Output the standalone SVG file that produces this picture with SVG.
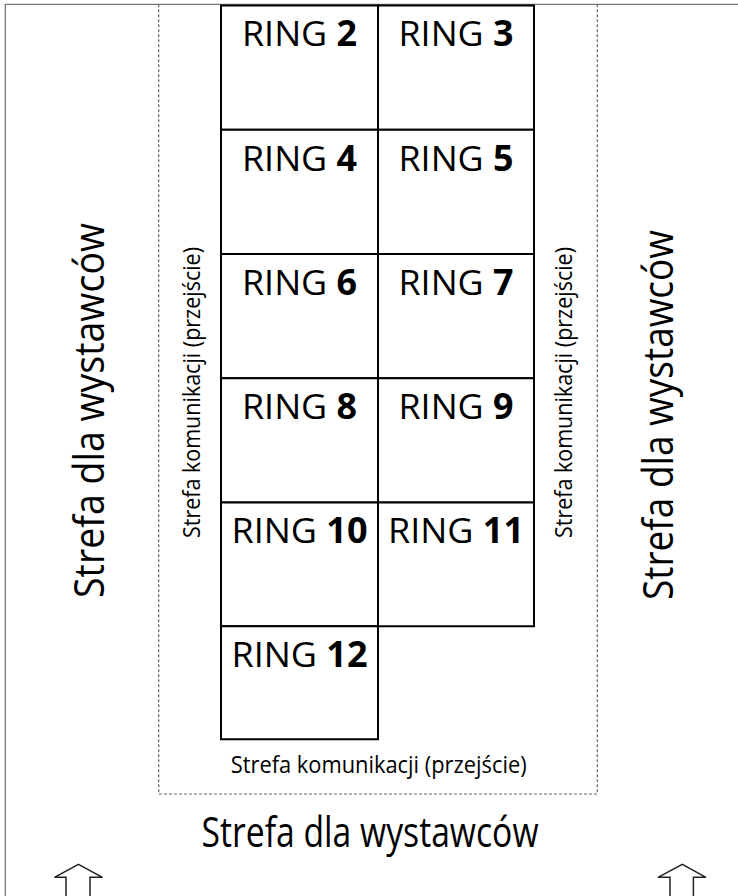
<svg xmlns="http://www.w3.org/2000/svg" width="738" height="896" viewBox="0 0 738 896">
<style>
.ring{fill:#fff;stroke:#000;stroke-width:2}
.lbl{font-family:"Open Sans","Liberation Sans",sans-serif;font-size:35px;fill:#000;text-anchor:middle}
.lbl tspan{font-weight:bold}
.big{font-family:"Open Sans","Liberation Sans",sans-serif;font-size:42px;fill:#000;text-anchor:middle}
.small{font-family:"Open Sans","Liberation Sans",sans-serif;font-size:24px;fill:#000;text-anchor:middle}
.dash{fill:none;stroke:#666;stroke-width:1.2;stroke-dasharray:3 2}
.frame{fill:none;stroke:#777;stroke-width:1.3}
.arrow{fill:#fff;stroke:#222;stroke-width:1.5;stroke-linejoin:miter}
</style>
<rect width="738" height="896" fill="#fff"/>
<g id="frame">
<polyline class="frame" points="5.3,897 5.3,4.3 738,4.3"/>
</g>
<g id="corridor">
<polyline class="dash" points="158.7,4.3 158.7,794 597.3,794 597.3,4.3"/>
</g>
<g id="ring2"><rect class="ring" x="221" y="5.5" width="157" height="124.25"/><text class="lbl" x="299.5" y="46" textLength="115" lengthAdjust="spacingAndGlyphs">RING <tspan>2</tspan></text></g>
<g id="ring3"><rect class="ring" x="378" y="5.5" width="156" height="124.25"/><text class="lbl" x="456" y="46" textLength="115" lengthAdjust="spacingAndGlyphs">RING <tspan>3</tspan></text></g>
<g id="ring4"><rect class="ring" x="221" y="129.75" width="157" height="124.25"/><text class="lbl" x="299.5" y="170.5" textLength="115" lengthAdjust="spacingAndGlyphs">RING <tspan>4</tspan></text></g>
<g id="ring5"><rect class="ring" x="378" y="129.75" width="156" height="124.25"/><text class="lbl" x="456" y="170.5" textLength="115" lengthAdjust="spacingAndGlyphs">RING <tspan>5</tspan></text></g>
<g id="ring6"><rect class="ring" x="221" y="254" width="157" height="124.25"/><text class="lbl" x="299.5" y="295" textLength="115" lengthAdjust="spacingAndGlyphs">RING <tspan>6</tspan></text></g>
<g id="ring7"><rect class="ring" x="378" y="254" width="156" height="124.25"/><text class="lbl" x="456" y="295" textLength="115" lengthAdjust="spacingAndGlyphs">RING <tspan>7</tspan></text></g>
<g id="ring8"><rect class="ring" x="221" y="378.25" width="157" height="124.25"/><text class="lbl" x="299.5" y="419" textLength="115" lengthAdjust="spacingAndGlyphs">RING <tspan>8</tspan></text></g>
<g id="ring9"><rect class="ring" x="378" y="378.25" width="156" height="124.25"/><text class="lbl" x="456" y="419" textLength="115" lengthAdjust="spacingAndGlyphs">RING <tspan>9</tspan></text></g>
<g id="ring10"><rect class="ring" x="221" y="502.5" width="157" height="123.75"/><text class="lbl" x="299.5" y="543.3" textLength="136" lengthAdjust="spacingAndGlyphs">RING <tspan>10</tspan></text></g>
<g id="ring11"><rect class="ring" x="378" y="502.5" width="156" height="123.75"/><text class="lbl" x="456" y="543.3" textLength="136" lengthAdjust="spacingAndGlyphs">RING <tspan>11</tspan></text></g>
<g id="ring12"><rect class="ring" x="221" y="626.25" width="157" height="113"/><text class="lbl" x="299.5" y="666.7" textLength="136" lengthAdjust="spacingAndGlyphs">RING <tspan>12</tspan></text></g>
<g id="zone-left"><text class="big" transform="translate(104.3,410.5) rotate(-90)" textLength="375" lengthAdjust="spacingAndGlyphs">Strefa dla wystawców</text></g>
<g id="zone-right"><text class="big" transform="translate(673.3,415) rotate(-90)" textLength="370" lengthAdjust="spacingAndGlyphs">Strefa dla wystawców</text></g>
<g id="zone-bottom"><text class="big" x="370" y="846.7" textLength="337" lengthAdjust="spacingAndGlyphs">Strefa dla wystawców</text></g>
<g id="corr-left"><text class="small" transform="translate(200,392.5) rotate(-90)" textLength="291" lengthAdjust="spacingAndGlyphs">Strefa komunikacji (przejście)</text></g>
<g id="corr-right"><text class="small" transform="translate(571.5,392.5) rotate(-90)" textLength="291" lengthAdjust="spacingAndGlyphs">Strefa komunikacji (przejście)</text></g>
<g id="corr-bottom"><text class="small" x="378.7" y="773.3" textLength="296" lengthAdjust="spacingAndGlyphs">Strefa komunikacji (przejście)</text></g>
<g id="connectors">
<polyline class="arrow" points="66,898 66,877.3 54.5,877.3 78.4,864.3 102.5,877.3 90,877.3 90,898"/>
<polyline class="arrow" points="670,898 670,877.3 658,877.3 682.3,864.3 706,877.3 693.4,877.3 693.4,898"/>
</g>
</svg>
